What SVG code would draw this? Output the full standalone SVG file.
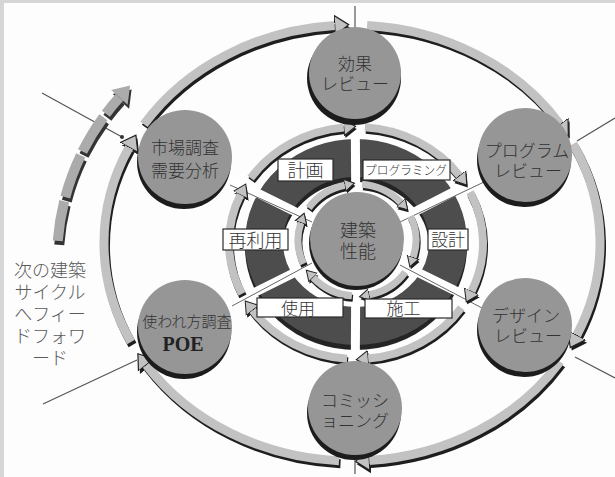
<svg xmlns="http://www.w3.org/2000/svg" width="615" height="477" viewBox="0 0 615 477">
<style>
.sh{fill:none;stroke:#1e1e1e;stroke-linecap:butt}
.band{fill:none;stroke:#c2c2c2;stroke-linecap:butt}
.o{stroke-width:9}
.m{stroke-width:8}
.i{stroke-width:7}
.thin{stroke:#555;stroke-width:1.2;fill:none}
.spoke{stroke:#fff;stroke-width:9;fill:none}
.sline{stroke:#666;stroke-width:1;fill:none}
.nsh{fill:#1c1c1c}
.node{fill:#969696}
.t{font-family:"Noto Sans CJK JP","Noto Sans CJK SC",sans-serif;font-weight:300;fill:#333;text-anchor:middle;font-size:17px}
.lt{font-family:"Noto Sans CJK JP","Noto Sans CJK SC",sans-serif;font-weight:300;fill:#5a5a5a;text-anchor:middle;font-size:18px}
.lbl{fill:#fff;stroke:#2a2a2a;stroke-width:1.2}
.seg{fill:none;stroke:#ababab;stroke-width:10}
.segsh{fill:none;stroke:#333;stroke-width:10}
</style>
<defs>
<marker id="mo" markerUnits="userSpaceOnUse" markerWidth="16" markerHeight="22" viewBox="0 0 16 22" refX="0" refY="11" orient="auto"><path d="M0,1 L14,11 L0,21 Z" fill="#c2c2c2" stroke="#222" stroke-width="1.2"/></marker>
<marker id="mos" markerUnits="userSpaceOnUse" markerWidth="16" markerHeight="22" viewBox="0 0 16 22" refX="0" refY="11" orient="auto"><path d="M0,1 L14,11 L0,21 Z" fill="#1e1e1e"/></marker>
<marker id="mm" markerUnits="userSpaceOnUse" markerWidth="14" markerHeight="18" viewBox="0 0 14 18" refX="0" refY="9" orient="auto"><path d="M0,1 L12,9 L0,17 Z" fill="#c2c2c2" stroke="#222" stroke-width="1"/></marker>
<marker id="mms" markerUnits="userSpaceOnUse" markerWidth="14" markerHeight="18" viewBox="0 0 14 18" refX="0" refY="9" orient="auto"><path d="M0,1 L12,9 L0,17 Z" fill="#1e1e1e"/></marker>
<marker id="mi" markerUnits="userSpaceOnUse" markerWidth="12" markerHeight="14" viewBox="0 0 12 14" refX="0" refY="7" orient="auto"><path d="M0,1 L10,7 L0,13 Z" fill="#c2c2c2" stroke="#222" stroke-width="1"/></marker>
<marker id="mis" markerUnits="userSpaceOnUse" markerWidth="12" markerHeight="14" viewBox="0 0 12 14" refX="0" refY="7" orient="auto"><path d="M0,1 L10,7 L0,13 Z" fill="#1e1e1e"/></marker>
</defs>

<rect x="0" y="0" width="615" height="477" fill="#d6d6d6"/>
<rect x="4" y="3" width="611" height="474" fill="#fdfdfd"/>

<g id="wheel">
<ellipse cx="356" cy="247" rx="92" ry="84" fill="none" stroke="#242424" stroke-width="38"/>
<ellipse cx="356" cy="242" rx="92" ry="84" fill="none" stroke="#4d4d4d" stroke-width="38"/>
</g>

<g id="connectors">
<g id="spokes">
<line class="spoke" x1="356" y1="242" x2="355" y2="73"/>
<line class="spoke" x1="356" y1="242" x2="525" y2="155"/>
<line class="spoke" x1="356" y1="242" x2="525" y2="325"/>
<line class="spoke" x1="356" y1="242" x2="355" y2="408"/>
<line class="spoke" x1="356" y1="242" x2="185" y2="327"/>
<line class="spoke" x1="356" y1="242" x2="185" y2="157"/>
<line class="sline" x1="400" y1="222" x2="484" y2="182"/>
<line class="sline" x1="400" y1="265" x2="482" y2="308"/>
<line class="sline" x1="230" y1="185" x2="312" y2="222"/>
<line class="sline" x1="232" y1="306" x2="312" y2="263"/>
</g>
<g id="inner-ring">
<g transform="translate(1,2.5)">
<path class="sh i" marker-end="url(#mis)" d="M308.7,207.9 A59,56 0 0 1 344.7,185.2"/>
<path class="sh i" marker-end="url(#mis)" d="M362.1,184.2 A59,56 0 0 1 400.8,202.5"/>
<path class="sh i" marker-end="url(#mis)" d="M410.5,216.3 A59,56 0 0 1 413.1,257.3"/>
<path class="sh i" marker-end="url(#mis)" d="M405.3,272.1 A59,56 0 0 1 369.3,294.8"/>
<path class="sh i" marker-end="url(#mis)" d="M351.9,295.8 A59,56 0 0 1 313.2,277.5"/>
<path class="sh i" marker-end="url(#mis)" d="M303.5,263.7 A59,56 0 0 1 300.9,222.7"/>
</g>
<path class="band i" marker-end="url(#mi)" d="M308.7,207.9 A59,56 0 0 1 344.7,185.2"/>
<path class="band i" marker-end="url(#mi)" d="M362.1,184.2 A59,56 0 0 1 400.8,202.5"/>
<path class="band i" marker-end="url(#mi)" d="M410.5,216.3 A59,56 0 0 1 413.1,257.3"/>
<path class="band i" marker-end="url(#mi)" d="M405.3,272.1 A59,56 0 0 1 369.3,294.8"/>
<path class="band i" marker-end="url(#mi)" d="M351.9,295.8 A59,56 0 0 1 313.2,277.5"/>
<path class="band i" marker-end="url(#mi)" d="M303.5,263.7 A59,56 0 0 1 300.9,222.7"/>
</g>
<g id="middle-ring">
<g transform="translate(1,2.5)">
<path class="sh m" marker-end="url(#mms)" d="M250.7,178.1 A127,116 0 0 1 343.8,127.5"/>
<path class="sh m" marker-end="url(#mms)" d="M364.9,127.3 A127,116 0 0 1 459.4,175.6"/>
<path class="sh m" marker-end="url(#mms)" d="M470.1,192.1 A127,116 0 0 1 471.6,291.1"/>
<path class="sh m" marker-end="url(#mms)" d="M461.3,307.9 A127,116 0 0 1 368.2,358.5"/>
<path class="sh m" marker-end="url(#mms)" d="M347.1,358.7 A127,116 0 0 1 252.6,310.4"/>
<path class="sh m" marker-end="url(#mms)" d="M241.9,293.9 A127,116 0 0 1 240.4,194.9"/>
</g>
<path class="band m" marker-end="url(#mm)" d="M250.7,178.1 A127,116 0 0 1 343.8,127.5"/>
<path class="band m" marker-end="url(#mm)" d="M364.9,127.3 A127,116 0 0 1 459.4,175.6"/>
<path class="band m" marker-end="url(#mm)" d="M470.1,192.1 A127,116 0 0 1 471.6,291.1"/>
<path class="band m" marker-end="url(#mm)" d="M461.3,307.9 A127,116 0 0 1 368.2,358.5"/>
<path class="band m" marker-end="url(#mm)" d="M347.1,358.7 A127,116 0 0 1 252.6,310.4"/>
<path class="band m" marker-end="url(#mm)" d="M241.9,293.9 A127,116 0 0 1 240.4,194.9"/>
</g>
<g id="outer-ring">
<g transform="translate(1.5,3)">
<path class="sh o" marker-end="url(#mos)" d="M144.0,124.3 A248,218 0 0 1 334.7,25.5"/>
<path class="sh o" marker-end="url(#mos)" d="M367.1,25.4 A248,218 0 0 1 560.0,124.3"/>
<path class="sh o" marker-end="url(#mos)" d="M573.0,144.0 A248,218 0 0 1 576.8,335.1"/>
<path class="sh o" marker-end="url(#mos)" d="M560.0,361.7 A248,218 0 0 1 369.3,460.5"/>
<path class="sh o" marker-end="url(#mos)" d="M339.0,460.7 A248,218 0 0 1 146.4,364.9"/>
<path class="sh o" marker-end="url(#mos)" d="M131.0,342.0 A248,218 0 0 1 129.1,147.4"/>
</g>
<path class="band o" marker-end="url(#mo)" d="M144.0,124.3 A248,218 0 0 1 334.7,25.5"/>
<path class="band o" marker-end="url(#mo)" d="M367.1,25.4 A248,218 0 0 1 560.0,124.3"/>
<path class="band o" marker-end="url(#mo)" d="M573.0,144.0 A248,218 0 0 1 576.8,335.1"/>
<path class="band o" marker-end="url(#mo)" d="M560.0,361.7 A248,218 0 0 1 369.3,460.5"/>
<path class="band o" marker-end="url(#mo)" d="M339.0,460.7 A248,218 0 0 1 146.4,364.9"/>
<path class="band o" marker-end="url(#mo)" d="M131.0,342.0 A248,218 0 0 1 129.1,147.4"/>
</g>
<g id="io-lines">
<line class="thin" x1="42" y1="93" x2="122" y2="137"/>
<circle cx="122" cy="137" r="2" fill="#333"/>
<line class="thin" x1="43" y1="404" x2="137" y2="360"/>
<line class="thin" x1="615" y1="118" x2="577" y2="141"/>
<line class="thin" x1="575" y1="357" x2="615" y2="378"/>
<line class="thin" x1="355" y1="6" x2="355" y2="30"/>
<line class="thin" x1="355" y1="448" x2="355" y2="474"/>
</g>
<g id="feedforward-arrow">
<g transform="translate(1.5,4)">
<path class="segsh" d="M57.75,240.9 A243,243 0 0 1 64.2,201.2"/>
<path class="segsh" d="M65.3,197.1 A243,243 0 0 1 80.7,155.4"/>
<path class="segsh" d="M82.5,151.6 A243,243 0 0 1 103.4,117.2"/>
<path class="segsh" d="M105.9,113.8 A243,243 0 0 1 119.4,97.4"/>
<polygon points="111.2,90.0 130.1,85.5 127.6,104.8" fill="#333"/>
</g>
<path class="seg" d="M57.75,240.9 A243,243 0 0 1 64.2,201.2"/>
<path class="seg" d="M65.3,197.1 A243,243 0 0 1 80.7,155.4"/>
<path class="seg" d="M82.5,151.6 A243,243 0 0 1 103.4,117.2"/>
<path class="seg" d="M105.9,113.8 A243,243 0 0 1 119.4,97.4"/>
<polygon points="111.2,90.0 130.1,85.5 127.6,104.8" fill="#ababab"/>
</g>
</g>

<g id="label-keikaku"><rect class="lbl" x="278" y="159" width="55" height="22"/><text class="t" x="305.5" y="177" style="font-size:18px">計画</text></g>
<g id="label-programming"><rect class="lbl" x="363" y="160" width="87" height="20"/><text class="t" x="406" y="174.5" style="font-size:12.5px" textLength="82" lengthAdjust="spacingAndGlyphs">プログラミング</text></g>
<g id="label-sekkei"><rect class="lbl" x="428" y="229" width="40" height="21"/><text class="t" x="448" y="246">設計</text></g>
<g id="label-sekou"><rect class="lbl" x="365" y="299" width="87" height="19"/><text class="t" x="403.5" y="315">施工</text></g>
<g id="label-shiyou"><rect class="lbl" x="257" y="298" width="86" height="19"/><text class="t" x="298" y="314.5">使用</text></g>
<g id="label-sairiyou"><rect class="lbl" x="223" y="229" width="65" height="21"/><text class="t" x="255.5" y="246.5" style="font-size:18px">再利用</text></g>

<g id="node-center"><circle class="nsh" cx="356" cy="243" r="47"/><circle class="node" cx="357" cy="239" r="47"/><text class="t" style="font-size:18px"><tspan x="358" y="237">建築</tspan><tspan x="358" y="258">性能</tspan></text></g>
<g id="node-kouka"><circle class="nsh" cx="354" cy="78" r="47"/><circle class="node" cx="355" cy="73" r="46"/><text class="t"><tspan x="355" y="69.5">効果</tspan><tspan x="355" y="89.5">レビュー</tspan></text></g>
<g id="node-program"><circle class="nsh" cx="524" cy="160" r="47"/><circle class="node" cx="525" cy="155" r="47"/><text class="t"><tspan x="527" y="156.5">プログラム</tspan><tspan x="528" y="176.5">レビュー</tspan></text></g>
<g id="node-design"><circle class="nsh" cx="524" cy="330" r="47"/><circle class="node" cx="525" cy="325" r="47"/><text class="t"><tspan x="526" y="321.5">デザイン</tspan><tspan x="528" y="341.5">レビュー</tspan></text></g>
<g id="node-commissioning"><circle class="nsh" cx="354" cy="413" r="47"/><circle class="node" cx="355" cy="408" r="47"/><text class="t"><tspan x="355" y="406.5">コミッシ</tspan><tspan x="355" y="426.5">ョニング</tspan></text></g>
<g id="node-poe"><circle class="nsh" cx="184" cy="332" r="47"/><circle class="node" cx="185" cy="327" r="47"/><text class="t" x="187" y="327" style="font-size:15px">使われ方調査</text><text x="183" y="351" text-anchor="middle" font-family="Liberation Serif, serif" font-weight="bold" font-size="20" fill="#222">POE</text></g>
<g id="node-market"><circle class="nsh" cx="184" cy="162" r="47"/><circle class="node" cx="185" cy="157" r="47"/><text class="t"><tspan x="185" y="153.5">市場調査</tspan><tspan x="185" y="176.5">需要分析</tspan></text></g>

<g id="feedforward-text">
<text class="lt"><tspan x="50" y="277">次の建築</tspan><tspan x="50" y="299">サイクル</tspan><tspan x="50" y="321">へフィー</tspan><tspan x="50" y="343">ドフォワ</tspan><tspan x="50" y="365">ード</tspan></text>
</g>
</svg>
